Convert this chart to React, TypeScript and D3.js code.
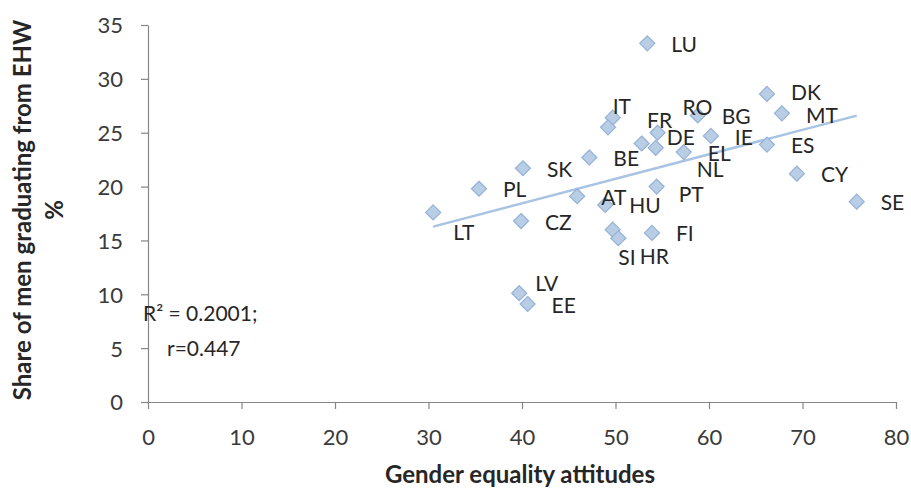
import { useEffect, useRef } from 'react'
import * as d3 from 'd3'

// country codes and the two measures
const countries = ['LU', 'IT', 'FR', 'DE', 'NL', 'RO', 'BG', 'IE', 'EL', 'BE', 'SK', 'DK', 'MT', 'ES', 'CY', 'SE', 'PT', 'PL', 'LT', 'AT', 'HU', 'CZ', 'HR', 'SI', 'FI', 'LV', 'EE']
const attitudes = [53.4, 49.7, 49.2, 52.8, 54.3, 54.5, 58.8, 60.2, 57.3, 47.2, 40.1, 66.2, 67.8, 66.2, 69.4, 75.8, 54.4, 35.4, 30.5, 45.9, 48.9, 39.9, 49.7, 50.3, 53.9, 39.7, 40.6]
const ehwShare = [33.3, 26.4, 25.5, 24.0, 23.6, 25.0, 26.6, 24.7, 23.2, 22.7, 21.7, 28.6, 26.8, 23.9, 21.2, 18.6, 20.0, 19.8, 17.6, 19.1, 18.3, 16.8, 16.0, 15.2, 15.7, 10.1, 9.1]

const xTicks = [0, 10, 20, 30, 40, 50, 60, 70, 80]
const yTicks = [0, 5, 10, 15, 20, 25, 30, 35]

// where each data label sits relative to its marker (px)
const labelOffset: Record<string, [number, number]> = {
  IT: [0, -11], FR: [39, -7], DE: [25, -6], NL: [41, 22], RO: [25, -25],
  LT: [20, 20], HR: [27, 27], SI: [0, 19], LV: [16, -10], PT: [22, 8],
  DK: [24, -1], MT: [24, 2],
}

export default function App() {
  const svgRef = useRef<SVGSVGElement>(null)
  const width = 911
  const height = 489

  useEffect(() => {
    document.body.style.margin = '0'
    if (!svgRef.current) return
    const svg = d3.select(svgRef.current)
    svg.selectAll('*').remove()

    const font = 'Lato, sans-serif'
    const axisColor = '#868686'
    const textColor = '#262626'
    const x = d3.scaleLinear().domain([0, 80]).range([148, 896])
    const y = d3.scaleLinear().domain([0, 35]).range([402, 25])

    // axes
    const xAxis = svg.append('g').attr('transform', `translate(0,${y(0)})`)
      .call(d3.axisBottom(x).tickValues(xTicks).tickSize(7).tickSizeOuter(0).tickPadding(20))
    const yAxis = svg.append('g').attr('transform', `translate(${x(0)},0)`)
      .call(d3.axisLeft(y).tickValues(yTicks).tickSize(7).tickSizeOuter(0).tickPadding(18))
    ;[xAxis, yAxis].forEach((a) => {
      a.select('.domain').attr('stroke', axisColor).attr('stroke-width', 1.2)
      a.selectAll('line').attr('stroke', axisColor).attr('stroke-width', 1.2)
      a.selectAll('text').attr('fill', '#3a3a3a').style('font-family', font).style('font-size', '22px')
    })
    yAxis.selectAll('text').attr('dy', '0.36em')

    // trend line (least squares)
    const data = countries.map((c, i) => ({ c, x: attitudes[i], y: ehwShare[i] }))
    const mx = d3.mean(data, (d) => d.x)!
    const my = d3.mean(data, (d) => d.y)!
    const slope = d3.sum(data, (d) => (d.x - mx) * (d.y - my)) / d3.sum(data, (d) => (d.x - mx) ** 2)
    const icpt = my - slope * mx
    const [x0, x1] = d3.extent(data, (d) => d.x) as [number, number]
    svg.append('line')
      .attr('x1', x(x0)).attr('y1', y(icpt + slope * x0))
      .attr('x2', x(x1)).attr('y2', y(icpt + slope * x1))
      .attr('stroke', '#a9c3e3').attr('stroke-width', 2.5)

    // markers
    const diamond = 'M0,-7.5L7.5,0L0,7.5L-7.5,0Z'
    svg.append('g').selectAll('path').data(data).join('path')
      .attr('d', diamond)
      .attr('transform', (d) => `translate(${x(d.x)},${y(d.y)})`)
      .attr('fill', '#b9cde5').attr('stroke', '#93b1d8').attr('stroke-width', 1.2)

    // data labels
    svg.append('g').selectAll('text').data(data).join('text')
      .attr('x', (d) => x(d.x) + (labelOffset[d.c]?.[0] ?? 24))
      .attr('y', (d) => y(d.y) + (labelOffset[d.c]?.[1] ?? 1))
      .attr('dy', '0.36em')
      .style('font-family', font).style('font-size', '21px').attr('fill', textColor)
      .text((d) => d.c)

    // R² note
    svg.append('text').attr('x', 143).attr('y', 313).attr('dy', '0.36em')
      .style('font-family', font).style('font-size', '21px').attr('fill', textColor)
      .text('R² = 0.2001;')
    svg.append('text').attr('x', 167).attr('y', 348).attr('dy', '0.36em')
      .style('font-family', font).style('font-size', '21px').attr('fill', textColor)
      .text('r=0.447')

    // axis titles
    svg.append('text').attr('x', 520).attr('y', 474).attr('dy', '0.36em')
      .attr('text-anchor', 'middle')
      .style('font-family', font).style('font-size', '24px').style('font-weight', 'bold').attr('fill', textColor)
      .text('Gender equality attitudes')
    const yt = svg.append('text').attr('transform', 'translate(22,210) rotate(-90)')
      .attr('text-anchor', 'middle')
      .style('font-family', font).style('font-size', '24px').style('font-weight', 'bold').attr('fill', textColor)
    yt.append('tspan').attr('x', 0).attr('dy', '0.36em').text('Share of men graduating from EHW')
    yt.append('tspan').attr('x', 0).attr('dy', '1.33em').text('%')
  }, [])

  return <svg ref={svgRef} width={width} height={height} style={{ display: 'block' }} />
}
